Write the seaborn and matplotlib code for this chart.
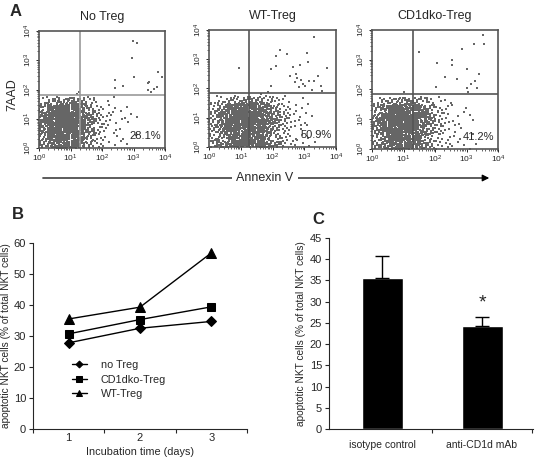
import numpy as np
import pandas as pd
import matplotlib
matplotlib.use("Agg")
import matplotlib.pyplot as plt
import seaborn as sns

# ---- panel A: flow cytometry, dot counts per 0.25-decade cell (log10 units)
# rows listed top (y 1.5-1.75) to bottom (y 0-0.25); columns x 0 .. 3.5
flow_titles = ["No Treg", "WT-Treg", "CD1dko-Treg"]
flow_pct = ["28.1%", "50.9%", "41.2%"]
no_treg_grid = [
    [4, 7, 10, 11, 10, 7, 4, 2, 1, 1, 0, 0, 0, 0],
    [10, 16, 21, 24, 21, 15, 8, 4, 2, 1, 1, 1, 0, 0],
    [14, 21, 28, 30, 28, 20, 11, 6, 3, 2, 1, 1, 1, 0],
    [15, 23, 30, 33, 29, 21, 12, 6, 3, 2, 1, 1, 0, 0],
    [13, 20, 26, 28, 25, 18, 10, 5, 3, 2, 1, 0, 0, 0],
    [10, 15, 20, 22, 20, 14, 8, 4, 2, 1, 1, 0, 1, 0],
    [9, 13, 17, 19, 17, 12, 7, 4, 2, 1, 1, 1, 0, 0],
]
wt_treg_grid = [
    [2, 4, 6, 8, 9, 9, 8, 6, 4, 2, 1, 1, 0, 0],
    [5, 10, 15, 18, 19, 19, 17, 13, 8, 4, 2, 1, 1, 0],
    [7, 13, 19, 23, 25, 24, 21, 16, 10, 5, 3, 1, 1, 1],
    [8, 14, 20, 24, 26, 25, 22, 17, 11, 6, 3, 2, 1, 0],
    [7, 12, 17, 21, 23, 22, 19, 14, 9, 5, 3, 1, 1, 0],
    [5, 9, 13, 16, 17, 17, 15, 11, 7, 4, 2, 1, 1, 0],
    [8, 12, 15, 18, 19, 19, 17, 13, 9, 6, 3, 2, 1, 1],
]
cd1dko_grid = [
    [3, 6, 8, 10, 10, 8, 6, 4, 2, 1, 1, 0, 0, 0],
    [7, 13, 18, 21, 21, 18, 13, 8, 4, 2, 1, 1, 0, 0],
    [10, 17, 23, 27, 27, 23, 17, 10, 5, 3, 1, 1, 1, 0],
    [11, 18, 25, 29, 29, 24, 18, 11, 6, 3, 2, 1, 1, 0],
    [9, 15, 21, 25, 24, 21, 15, 9, 5, 3, 1, 1, 0, 0],
    [7, 12, 16, 19, 19, 16, 11, 7, 4, 2, 1, 1, 1, 0],
    [8, 12, 16, 18, 18, 15, 11, 7, 4, 3, 2, 1, 1, 1],
]
# sparse single events in the upper part (log10 x, log10 y)
no_treg_x = [2.97, 3.11, 2.95, 2.42, 2.40, 2.68, 3.03, 3.77, 3.90, 3.50, 3.64, 3.74, 3.45, 3.56, 3.47, 1.20, 1.28]
no_treg_y = [3.66, 3.58, 3.07, 2.32, 2.06, 2.12, 2.44, 2.61, 2.44, 2.25, 2.02, 2.10, 1.98, 1.92, 2.21, 1.85, 1.90]
wt_treg_x = [3.32, 2.24, 2.11, 2.45, 0.94, 1.96, 2.11, 3.10, 3.11, 2.66, 2.87, 3.71, 2.55, 2.74, 2.77, 2.72,
             2.90, 2.97, 3.16, 3.32, 3.42, 2.83, 3.01, 3.24, 3.53, 3.56, 1.96, 1.64, 1.85]
wt_treg_y = [3.77, 3.32, 3.12, 3.18, 2.69, 2.66, 2.78, 3.22, 2.92, 2.75, 2.80, 2.71, 2.44, 2.49, 2.35, 2.23,
             2.29, 2.14, 2.26, 2.26, 2.44, 2.06, 2.10, 1.95, 2.10, 1.93, 2.09, 1.80, 1.89]
cd1dko_x = [3.53, 3.24, 3.56, 2.85, 1.49, 2.05, 2.55, 2.55, 3.00, 3.40, 2.32, 2.71, 3.27, 2.04, 3.00, 3.13, 3.32, 1.02, 3.05]
cd1dko_y = [3.83, 3.53, 3.52, 3.36, 3.27, 2.90, 2.99, 2.82, 2.68, 2.51, 2.41, 2.35, 2.29, 2.10, 2.04, 2.17, 2.04, 1.93, 1.90]
gate_x = [1.30, 1.26, 1.30]
gate_y = [1.81, 1.85, 1.85]

# ---- panel B
days = [1, 2, 3]
no_treg = [27.8, 32.5, 34.7]
cd1dko_treg = [30.7, 35.3, 39.4]
wt_treg = [35.5, 39.3, 56.8]
line_labels = ["no Treg", "CD1dko-Treg", "WT-Treg"]

# ---- panel C
groups = ["isotype control", "anti-CD1d mAb"]
means = [35.5, 24.2]
sem = [5.3, 2.3]

sns.set_style("ticks")
plt.rcParams["font.family"] = ["Liberation Sans", "DejaVu Sans"]

fig = plt.figure(figsize=(5.37, 4.63), dpi=100)
W, H = 537, 463


def box(l, t, r, b):
    return [l / W, 1 - b / H, (r - l) / W, (b - t) / H]


def expand(grid, sx, sy):
    # spread each cell's count over the cell with a low-discrepancy sequence
    xs, ys = [], []
    k = 0
    nrow = len(grid)
    for i, row in enumerate(grid):
        y0 = (nrow - 1 - i) * 0.25
        for j, n in enumerate(row):
            x0 = j * 0.25
            for _ in range(n):
                k += 1
                xs.append(x0 + 0.25 * ((0.5 + k * 0.7548776662) % 1))
                ys.append(y0 + 0.25 * ((0.5 + k * 0.5698402910) % 1))
    xs = np.array(xs + sx)
    ys = np.array(ys + sy)
    return pd.DataFrame({"x": 10 ** xs, "y": 10 ** ys})


flow_boxes = [box(39, 31, 165, 148), box(209, 30, 336, 147), box(372, 30, 498, 149)]
flow_data = [expand(no_treg_grid, no_treg_x, no_treg_y),
             expand(wt_treg_grid, wt_treg_x, wt_treg_y),
             expand(cd1dko_grid, cd1dko_x, cd1dko_y)]
gate_col = ["#999999", "#555555", "#555555"]

for i in range(3):
    ax = fig.add_axes(flow_boxes[i])
    sns.scatterplot(data=flow_data[i], x="x", y="y", ax=ax, s=0.7, marker="s",
                    color="#666666", linewidth=0, legend=False)
    ax.set_xscale("log")
    ax.set_yscale("log")
    ax.set_xlim(1, 1e4)
    ax.set_ylim(1, 1e4)
    ax.axvline(10 ** gate_x[i], color=gate_col[i], lw=1.2)
    ax.axhline(10 ** gate_y[i], color=gate_col[i], lw=1.2)
    for sp in ax.spines.values():
        sp.set_color("#555555")
        sp.set_linewidth(1.2)
    ax.set_xticks([1, 10, 100, 1000, 10000])
    ax.set_yticks([1, 10, 100, 1000, 10000])
    ax.tick_params(labelsize=6, length=2.5, width=0.7, pad=1)
    ax.tick_params(which="minor", length=1.5, width=0.5)
    ax.tick_params(axis="y", labelrotation=90)
    for lab in ax.get_yticklabels():
        lab.set_va("center")
    ax.set_xlabel("")
    ax.set_ylabel("")
    ax.set_title(flow_titles[i], fontsize=9, pad=8)
    ax.text(0.97, 0.1, flow_pct[i], transform=ax.transAxes, ha="right", va="center", fontsize=8)

fig.text(10 / W, 1 - 12 / H, "A", fontsize=12, fontweight="bold", ha="left", va="center")
fig.text(12 / W, 1 - 95 / H, "7AAD", fontsize=9, rotation=90, ha="center", va="center")
fig.add_artist(matplotlib.patches.FancyArrowPatch((40 / W, 1 - 178 / H), (492 / W, 1 - 178 / H),
                                                  transform=fig.transFigure, arrowstyle="-|>",
                                                  mutation_scale=10, lw=0.9, color="black"))
fig.text(265 / W, 1 - 178 / H, "Annexin V", fontsize=9, ha="center", va="center",
         bbox=dict(facecolor="white", edgecolor="none", pad=3))

# ---- panel B
axb = fig.add_axes(box(33, 243, 247, 429))
line_df = pd.DataFrame({
    "day": days * 3,
    "pct": no_treg + cd1dko_treg + wt_treg,
    "group": [line_labels[0]] * 3 + [line_labels[1]] * 3 + [line_labels[2]] * 3,
})
sns.lineplot(data=line_df, x="day", y="pct", style="group",
             markers={line_labels[0]: "D", line_labels[1]: "s", line_labels[2]: "^"},
             dashes=False, color="black", lw=1, markeredgecolor="black", ax=axb, legend=False)
msize = {"D": 5, "s": 6, "^": 7}
for ln in axb.lines:
    ln.set_markersize(msize.get(ln.get_marker(), 6))
axb.set_xlim(0.5, 3.5)
axb.set_ylim(0, 60)
axb.set_yticks(range(0, 61, 10))
axb.set_xticks([0.5, 1.5, 2.5, 3.5])
axb.set_xticklabels([])
axb.set_xticks(days, minor=True)
axb.set_xticklabels([str(d) for d in days], minor=True)
axb.tick_params(axis="x", which="minor", length=0, labelsize=8, pad=3)
axb.tick_params(axis="both", which="major", labelsize=8, length=3, width=0.8, pad=2)
sns.despine(ax=axb)
for sp in axb.spines.values():
    sp.set_linewidth(0.8)
axb.set_xlabel("Incubation time (days)", fontsize=7.8, labelpad=3)
axb.set_ylabel("apoptotic NKT cells (% of total NKT cells)", fontsize=7.3, labelpad=2)
axb.legend(handles=axb.lines[:3], labels=line_labels, loc="upper left", bbox_to_anchor=(0.18, 0.37),
           frameon=False, fontsize=7.8, markerscale=0.7, handlelength=1.4, handletextpad=1.3,
           labelspacing=0.4, borderpad=0, borderaxespad=0)
fig.text(12 / W, 1 - 215 / H, "B", fontsize=12, fontweight="bold", ha="left", va="center")

# ---- panel C
axc = fig.add_axes(box(329, 238, 533, 429))
bar_df = pd.DataFrame({"group": groups, "mean": means})
sns.barplot(data=bar_df, x="group", y="mean", color="black", width=0.41, ax=axc, errorbar=None)
axc.errorbar([0, 1], means, yerr=[[0, 0], sem], fmt="none", ecolor="black", elinewidth=1, capsize=5, capthick=1)
axc.set_xlim(-0.53, 1.51)
axc.set_ylim(0, 45)
axc.set_yticks(range(0, 46, 5))
axc.set_xticks([0.5, 1.5])
axc.set_xticklabels([])
axc.set_xticks([0, 1], minor=True)
axc.set_xticklabels(groups, minor=True)
axc.tick_params(axis="x", which="minor", length=0, labelsize=7.5, pad=8)
axc.tick_params(axis="both", which="major", labelsize=8, length=3, width=0.8, pad=2)
sns.despine(ax=axc)
for sp in axc.spines.values():
    sp.set_linewidth(0.8)
axc.set_xlabel("")
axc.set_ylabel("apoptotic NKT cells (% of total NKT cells)", fontsize=7.3, labelpad=3)
axc.text(1, means[1] + sem[1] + 1.2, "*", ha="center", va="bottom", fontsize=14)
fig.text(312 / W, 1 - 219 / H, "C", fontsize=12, fontweight="bold", ha="left", va="center")

fig.savefig("out.png", dpi=100)
